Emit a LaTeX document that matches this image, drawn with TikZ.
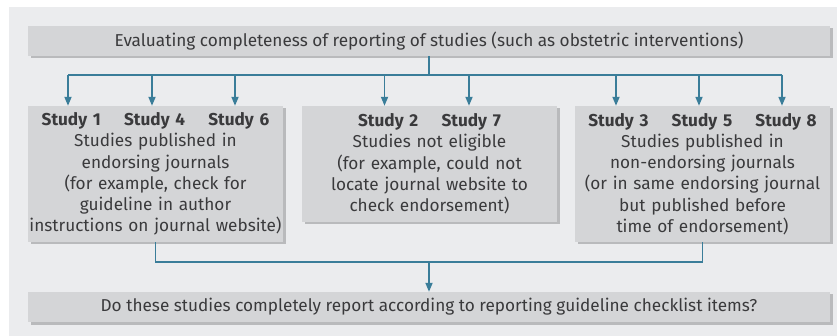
\documentclass[tikz,border=0pt]{standalone}
\usepackage{fontspec}
\setmainfont{Fira Sans}
\usetikzlibrary{arrows.meta,shadows}
\definecolor{panel}{HTML}{EBECEE}
\definecolor{boxfill}{HTML}{D4D5D7}
\definecolor{shade}{HTML}{B9BABC}
\definecolor{txt}{HTML}{3A3A3C}
\definecolor{link}{HTML}{3A7D99}
\tikzset{
  box/.style={fill=boxfill, text=txt, align=center, inner sep=0pt,
    font=\fontsize{17.2}{21.3}\selectfont,
    drop shadow={shadow xshift=2.5pt, shadow yshift=-2.5pt, fill=shade, opacity=1}},
  conn/.style={draw=link, line width=1.7pt},
  arr/.style={conn, -{Triangle[length=9pt,width=7pt]}}
}
\newcommand{\hd}[1]{\textbf{#1}}
\begin{document}
\begin{tikzpicture}[x=1pt,y=-1pt]
\useasboundingbox (0,0) rectangle (837,336);
\fill[white] (0,0) rectangle (837,336);
\fill[panel] (9,7) rectangle (837,336);
\node[box, minimum width=802pt, minimum height=30pt] (top) at (429,41)
  {Evaluating completeness of reporting of studies (such as obstetric interventions)};
\node[box, minimum width=255pt, minimum height=136pt, text width=255pt] (b1) at (155.5,174)
  {\hd{Study 1}\hspace{1.35em}\hd{Study 4}\hspace{1.35em}\hd{Study 6}\\
   Studies published in\\ endorsing journals\\ (for example, check for\\ guideline in author\\ instructions on journal website)};
\node[box, minimum width=255pt, minimum height=116pt, text width=255pt] (b2) at (429.5,164)
  {\hd{Study 2}\hspace{1.35em}\hd{Study 7}\\
   Studies not eligible\\ (for example, could not\\ locate journal website to\\ check endorsement)};
\node[box, minimum width=255pt, minimum height=136pt, text width=255pt] (b3) at (702.5,174)
  {\hd{Study 3}\hspace{1.35em}\hd{Study 5}\hspace{1.35em}\hd{Study 8}\\
   Studies published in\\ non-endorsing journals\\ (or in same endorsing journal\\ but published before\\ time of endorsement)};
\node[box, minimum width=802pt, minimum height=30pt] (bot) at (429,307)
  {Do these studies completely report according to reporting guideline checklist items?};
% top connectors
\coordinate (bus) at (429,75);
\draw[conn] (top.south) -- (bus);
\draw[conn] ([xshift=-87.5pt]b1.north |- bus) -- ([xshift=79.5pt]b3.north |- bus);
\foreach \n/\dx in {b1/-87.5, b1/-3.5, b1/79.5, b2/-45, b2/39.5, b3/-86.5, b3/-3.5, b3/79.5}{
  \draw[arr] ([xshift=\dx pt]\n.north |- bus) -- ([xshift=\dx pt]\n.north);
}
% bottom connectors
\coordinate (join) at (429,262);
\draw[conn] (b1.south) |- (join) -| (b3.south);
\draw[arr] (join) -- (bot.north);
\end{tikzpicture}
\end{document}
